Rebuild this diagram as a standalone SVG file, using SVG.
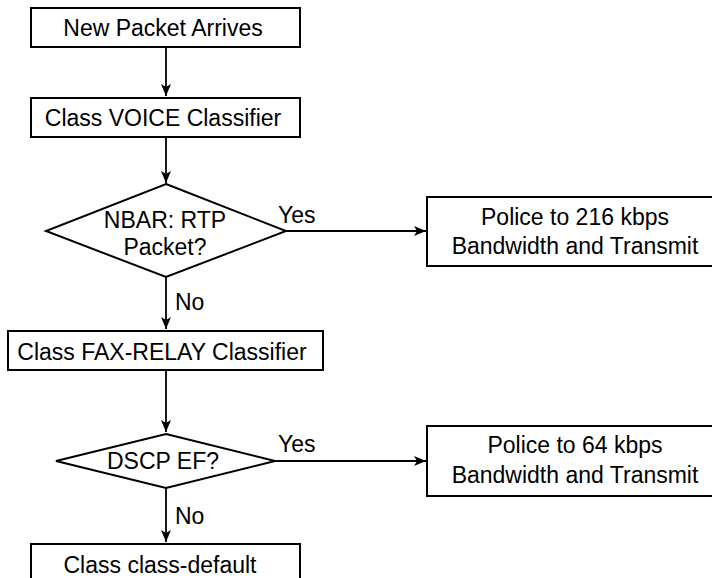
<svg xmlns="http://www.w3.org/2000/svg" width="712" height="578" viewBox="0 0 712 578">
  <style>
    .box { fill: #ffffff; stroke: #000000; stroke-width: 2; }
    .lbl { font-family: "Liberation Sans", Arial, sans-serif; font-size: 23px; fill: #000000; text-anchor: middle; }
    .tag { font-family: "Liberation Sans", Arial, sans-serif; font-size: 23px; fill: #000000; }
    .wire { fill: none; stroke: #000000; stroke-width: 1.8; }
  </style>
  <defs>
    <marker id="arrow" viewBox="0 0 12 10" refX="12" refY="5" markerWidth="12" markerHeight="10" markerUnits="userSpaceOnUse" orient="auto">
      <path d="M0,0 L12,5 L0,10 L3,5 Z" fill="#000000"/>
    </marker>
  </defs>
  <rect width="712" height="578" fill="#ffffff"/>

  <g id="connectors">
    <line class="wire" x1="166" y1="47" x2="166" y2="96" marker-end="url(#arrow)"/>
    <line class="wire" x1="166" y1="137" x2="166" y2="183" marker-end="url(#arrow)"/>
    <line class="wire" x1="286" y1="231" x2="426" y2="231" marker-end="url(#arrow)"/>
    <line class="wire" x1="166" y1="277" x2="166" y2="329" marker-end="url(#arrow)"/>
    <line class="wire" x1="166" y1="370" x2="166" y2="432" marker-end="url(#arrow)"/>
    <line class="wire" x1="275" y1="461" x2="426" y2="461" marker-end="url(#arrow)"/>
    <line class="wire" x1="166" y1="488" x2="166" y2="542" marker-end="url(#arrow)"/>
    <text class="tag" x="278" y="223">Yes</text>
    <text class="tag" x="175" y="310">No</text>
    <text class="tag" x="278" y="452">Yes</text>
    <text class="tag" x="175" y="524">No</text>
  </g>

  <g id="new-packet">
    <rect class="box" x="31" y="8" width="269" height="39"/>
    <text class="lbl" x="163" y="36">New Packet Arrives</text>
  </g>

  <g id="voice-classifier">
    <rect class="box" x="31" y="98" width="269" height="39"/>
    <text class="lbl" x="163" y="126">Class VOICE Classifier</text>
  </g>

  <g id="rtp-decision">
    <polygon class="box" points="166,184 286,231 166,277 46,231"/>
    <text class="lbl" x="165" y="228">NBAR: RTP</text>
    <text class="lbl" x="165" y="255">Packet?</text>
  </g>

  <g id="police-216">
    <rect class="box" x="427" y="197" width="300" height="69"/>
    <text class="lbl" x="575" y="225">Police to 216 kbps</text>
    <text class="lbl" x="575" y="254">Bandwidth and Transmit</text>
  </g>

  <g id="fax-relay-classifier">
    <rect class="box" x="8" y="331" width="315" height="39"/>
    <text class="lbl" x="162" y="360">Class FAX-RELAY Classifier</text>
  </g>

  <g id="dscp-decision">
    <polygon class="box" points="166,434 275,461 166,488 56,461"/>
    <text class="lbl" x="163" y="469">DSCP EF?</text>
  </g>

  <g id="police-64">
    <rect class="box" x="427" y="426" width="300" height="70"/>
    <text class="lbl" x="575" y="453">Police to 64 kbps</text>
    <text class="lbl" x="575" y="483">Bandwidth and Transmit</text>
  </g>

  <g id="class-default">
    <rect class="box" x="31" y="544" width="269" height="50"/>
    <text class="lbl" x="160" y="573">Class class-default</text>
  </g>
</svg>
